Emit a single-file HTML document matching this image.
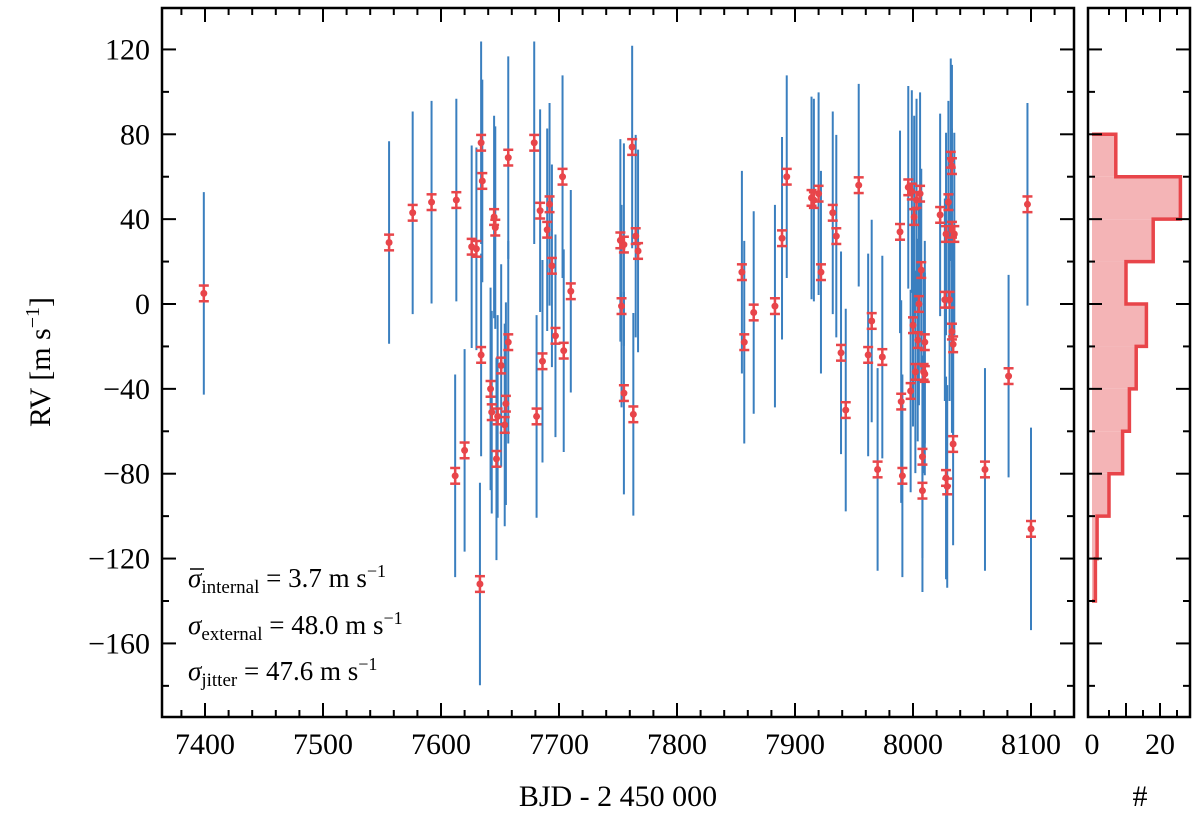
<!DOCTYPE html>
<html><head><meta charset="utf-8"><style>
html,body{margin:0;padding:0;background:#fff;width:1200px;height:818px;overflow:hidden}
svg text{font-family:"Liberation Serif",serif;fill:#000}
</style></head><body>
<svg id="chart" width="1200" height="818" viewBox="0 0 1200 818" xmlns="http://www.w3.org/2000/svg"></svg>
<script>
const times=[7399,7556,7576,7592,7613,7612,7620,7626,7630,7634,7635,7634,7633,7642,7643,7645,7646,7647,7648,7651,7654,7655,7657,7657,7679,7681,7684,7686,7690,7692,7694,7697,7703,7704,7710,7752,7753,7755,7755,7762,7763,7765,7767,7855,7857,7865,7883,7889,7893,7914,7916,7920,7922,7932,7935,7939,7943,7954,7962,7965,7970,7974,7989,7990,7991,7996,7998,7999,8000,8001,8002,8003,8004,8005,8006,8007,8008,8008,8009,8010,8010,8023,8027,8028,8028,8029,8030,8031,8032,8033,8033,8033,8034,8035,8034,8061,8081,8097,8100];
const rvs=[5,29,43,48,49,-81,-69,27,26,76,58,-24,-132,-40,-51,41,36,-73,-53,-29,-57,-47,69,-18,76,-53,44,-27,35,47,18,-15,60,-22,6,30,-1,-42,28,74,-52,32,25,15,-18,-4,-1,31,60,50,49,52,15,43,32,-23,-50,56,-24,-8,-78,-25,34,-46,-81,55,-41,53,-10,41,-32,49,-17,0,52,16,-88,-72,-32,-33,-18,42,2,33,-82,-86,48,2,68,65,35,-13,-19,33,-66,-78,-34,47,-106];
const internalErr=3.7;
const jitter=47.6;
const histBins=[-140,-120,-100,-80,-60,-40,-20,0,20,40,60];
const histCounts=[1,1.5,5,9,11,13,16,10,18,26,7];
const xTicks=[7400,7500,7600,7700,7800,7900,8000,8100];
const yTicks=[120,80,40,0,-40,-80,-120,-160];
const hTicks=[0,20];

const NS="http://www.w3.org/2000/svg";
const svg=document.getElementById('chart');
function el(tag,attrs,parent){const e=document.createElementNS(NS,tag);for(const k in attrs)e.setAttribute(k,attrs[k]);(parent||svg).appendChild(e);return e;}
const L=162,R=1074,T=8,B=717;
const X=t=>205+(t-7400)*1.18;
const Y=v=>304-v*2.1214;
const HL=1088,HR=1190;
const HX=c=>1092+c*3.4;

const g=el('g',{});


const tot=Math.sqrt(internalErr*internalErr+jitter*jitter);
times.forEach((t,i)=>{
  const x=X(t);
  const b=el('line',{x1:x,x2:x,y1:Y(rvs[i]+tot),y2:Y(rvs[i]-tot),stroke:'#3a7fbf','stroke-width':2},g);
  
  
});
times.forEach((t,i)=>{
  const x=X(t),y1=Y(rvs[i]+internalErr),y2=Y(rvs[i]-internalErr);
  const pg=el('g',{stroke:'#e8454a','stroke-width':2.5,fill:'#e8454a'},g);
  
  
  el('line',{x1:x,x2:x,y1:y1,y2:y2},pg);
  el('line',{x1:x-5,x2:x+5,y1:y1,y2:y1},pg);
  el('line',{x1:x-5,x2:x+5,y1:y2,y2:y2},pg);
  el('circle',{cx:x,cy:Y(rvs[i]),r:3,'stroke-width':1},pg);
});

const hg=el('g',{});


let d='M'+HX(0)+','+Y(histBins[0]);
histBins.forEach((b,i)=>{
  const r=el('rect',{x:HX(0),y:Y(b+20),width:HX(histCounts[i])-HX(0),height:Y(b)-Y(b+20),fill:'#f4b4b6'},hg);
  
  
  d+=' L'+HX(histCounts[i])+','+Y(b)+' L'+HX(histCounts[i])+','+Y(b+20);
});
d+=' L'+HX(0)+','+Y(80);
el('path',{d:d,fill:'none',stroke:'#e8454a','stroke-width':3.5},hg);

function frame(x1,x2,name){const r=el('rect',{x:x1,y:T,width:x2-x1,height:B-T,fill:'none',stroke:'#000','stroke-width':2.5});}
frame(L,R,'main-axes');frame(HL,HR,'hist-axes');
function tick(x1,y1,x2,y2){el('line',{x1,y1,x2,y2,stroke:'#000','stroke-width':2});}
for(let t=7380;t<=8140;t+=20){const x=X(t);if(x<=L||x>=R)continue;const maj=t%100===0;const l=maj?14:7;tick(x,B,x,B-l);tick(x,T,x,T+l);}
xTicks.forEach(t=>{const tx=el('text',{x:X(t),y:754,'font-size':30,'text-anchor':'middle'});tx.textContent=t;});
for(let v=-200;v<=140;v+=20){const y=Y(v);if(y<=T||y>=B)continue;const maj=v%40===0;const l=maj?14:7;tick(L,y,L+l,y);tick(R,y,R-l,y);tick(HL,y,HL+l,y);tick(HR,y,HR-l,y);}
yTicks.forEach(v=>{const tx=el('text',{x:150,y:Y(v)+10,'font-size':30,'text-anchor':'end'});tx.textContent=(v<0?'\u2212'+(-v):v);});
for(let c=5;c<=25;c+=5){const x=HX(c);if(x>=HR)continue;const l=c%10===0?14:7;tick(x,B,x,B-l);tick(x,T,x,T+l);}
hTicks.forEach(c=>{const tx=el('text',{x:HX(c),y:754,'font-size':30,'text-anchor':'middle'});tx.textContent=c;});
</script>
<svg width="1200" height="818" style="position:absolute;left:0;top:0" xmlns="http://www.w3.org/2000/svg">
<text x="618" y="806" font-size="30" text-anchor="middle">BJD - 2 450 000</text>
<text x="1140" y="806" font-size="30" text-anchor="middle">#</text>
<text transform="translate(50,362) rotate(-90)" font-size="30" text-anchor="middle">RV [m s<tspan dy="-11" font-size="20">−1</tspan><tspan dy="11">]</tspan></text>
<g font-size="27">
<text x="188" y="587"><tspan font-style="italic">σ</tspan><tspan dy="6" font-size="19">internal</tspan><tspan dy="-6"> = 3.7 m s</tspan><tspan dy="-10" font-size="18">−1</tspan></text>
<line x1="190" y1="569" x2="204" y2="569" stroke="#000" stroke-width="1.5"/>
<text x="188" y="634"><tspan font-style="italic">σ</tspan><tspan dy="6" font-size="19">external</tspan><tspan dy="-6"> = 48.0 m s</tspan><tspan dy="-10" font-size="18">−1</tspan></text>
<text x="188" y="680"><tspan font-style="italic">σ</tspan><tspan dy="6" font-size="19">jitter</tspan><tspan dy="-6"> = 47.6 m s</tspan><tspan dy="-10" font-size="18">−1</tspan></text>
</g>
</svg>
</body></html>
